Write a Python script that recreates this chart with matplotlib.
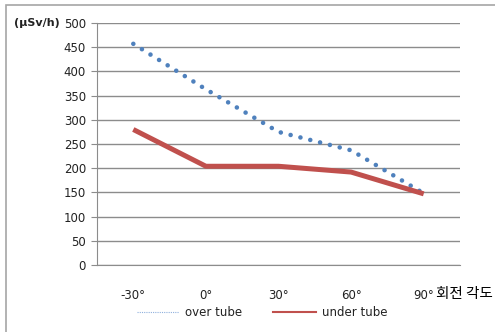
import matplotlib
matplotlib.use("Agg")
import matplotlib.pyplot as plt
from matplotlib.lines import Line2D
from matplotlib.patches import Rectangle

angles = ["-30°", "0°", "30°", "60°", "90°"]
over_tube = [457, 363, 275, 237, 148]
under_tube = [280, 204, 204, 192, 147]
y_ticks = [0, 50, 100, 150, 200, 250, 300, 350, 400, 450, 500]

plt.rcParams['font.family'] = ['DejaVu Sans', 'Noto Sans CJK KR']

W, H = 495, 332
fig = plt.figure(figsize=(W / 100, H / 100), dpi=100)

# outer chart border (only top/left visible in the reference)
fig.patches.append(Rectangle((6 / W, -0.1), 1.2, (H - 5) / H + 0.1,
                             transform=fig.transFigure, fill=False,
                             edgecolor='#a6a6a6', linewidth=1.2))

ax = fig.add_axes([97 / W, (H - 265) / H, 363 / W, (265 - 23) / H])

x = list(range(len(angles)))
ax.plot(x, over_tube, color='#4F81BD', linewidth=3.3,
        linestyle=(0, (0.01, 2.2)), dash_capstyle='round', zorder=3)
ax.plot(x, under_tube, color='#C0504D', linewidth=3.6,
        solid_capstyle='butt', solid_joinstyle='round', zorder=3)

ax.set_xlim(-0.5, len(angles) - 0.5)
ax.set_ylim(0, 500)
ax.set_yticks(y_ticks)
ax.grid(axis='y', color='#8c8c8c', linewidth=1.0)
ax.set_axisbelow(True)

for s in ['top', 'right']:
    ax.spines[s].set_visible(False)
ax.spines['left'].set_color('#8c8c8c')
ax.spines['bottom'].set_color('#8c8c8c')

ax.set_xticks(x)
ax.set_xticklabels(angles)
ax.tick_params(axis='x', length=0, pad=17, labelsize=8.5, labelcolor='#222222')
ax.tick_params(axis='y', direction='out', length=4, color='#8c8c8c',
               labelsize=8.5, labelcolor='#222222', pad=4)

fig.text(14 / W, 1 - 23 / H, "(μSv/h)", fontsize=8, fontweight='bold',
         color='#222222', va='center', ha='left')
fig.text(436 / W, 1 - 294 / H, "회전 각도", fontsize=10.5, fontweight='medium',
         family=['Noto Sans CJK KR', 'DejaVu Sans'], color='black',
         va='center', ha='left')

handles = [Line2D([], [], color='#8fb0dd', linewidth=0.8, linestyle=(0, (1, 1))),
           Line2D([], [], color='#C0504D', linewidth=1.5)]
fig.legend(handles, ["over tube", "under tube"], ncol=2, frameon=False,
           loc='center', bbox_to_anchor=(262 / W, 1 - 313 / H),
           fontsize=8.5, handlelength=3.6, columnspacing=2.6, handletextpad=0.5,
           labelcolor='#222222')

fig.savefig("out.png", dpi=100)
